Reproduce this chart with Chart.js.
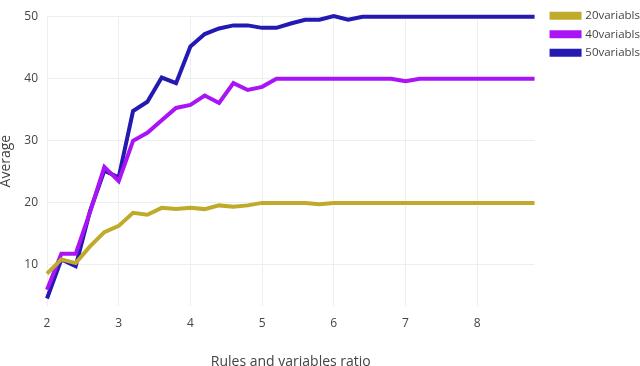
<!DOCTYPE html>
<html>
<head>
<meta charset="utf-8">
<script src="https://cdn.jsdelivr.net/npm/chart.js@4/dist/chart.umd.min.js"></script>
<style>
  html, body { margin: 0; padding: 0; background: #fff; }
  #wrap { width: 640px; height: 366px; position: relative; }
</style>
</head>
<body>
<div id="wrap"><canvas id="chart"></canvas></div>
<script>
// rules / variables ratio (x axis)
const ratios = [2.0, 2.2, 2.4, 2.6, 2.8, 3.0, 3.2, 3.4, 3.6, 3.8, 4.0, 4.2, 4.4, 4.6, 4.8,
                5.0, 5.2, 5.4, 5.6, 5.8, 6.0, 6.2, 6.4, 6.6, 6.8, 7.0, 7.2, 7.4, 7.6, 7.8,
                8.0, 8.2, 8.4, 8.6, 8.8];

const seriesNames = ['20variabls', '40variabls', '50variabls'];
const seriesColors = ['#bfaa2b', '#aa14f5', '#2419b3'];

const avg20 = [8.6, 10.9, 10.3, 13.0, 15.3, 16.3, 18.4, 18.1, 19.2, 19.0, 19.2, 19.0, 19.6, 19.4, 19.6,
               20.0, 20.0, 20.0, 20.0, 19.8, 20.0, 20.0, 20.0, 20.0, 20.0, 20.0, 20.0, 20.0, 20.0, 20.0,
               20.0, 20.0, 20.0, 20.0, 20.0];
const avg40 = [6.0, 11.8, 11.8, 18.5, 25.8, 23.5, 30.0, 31.3, 33.3, 35.3, 35.8, 37.3, 36.1, 39.3, 38.2,
               38.7, 40.0, 40.0, 40.0, 40.0, 40.0, 40.0, 40.0, 40.0, 40.0, 39.6, 40.0, 40.0, 40.0, 40.0,
               40.0, 40.0, 40.0, 40.0, 40.0];
const avg50 = [4.6, 10.9, 9.8, 18.7, 25.2, 24.1, 34.8, 36.3, 40.2, 39.3, 45.2, 47.2, 48.1, 48.6, 48.6,
               48.2, 48.2, 48.9, 49.5, 49.5, 50.1, 49.5, 50.0, 50.0, 50.0, 50.0, 50.0, 50.0, 50.0, 50.0,
               50.0, 50.0, 50.0, 50.0, 50.0];

const xTitle = 'Rules and variables ratio';
const yTitle = 'Average';

const toPoints = vals => vals.map((v, i) => ({ x: ratios[i], y: v }));

const datasets = [avg20, avg40, avg50].map((vals, i) => ({
    label: seriesNames[i],
    data: toPoints(vals),
    borderColor: seriesColors[i],
    backgroundColor: seriesColors[i],
    borderWidth: 4,
    pointRadius: 0,
    tension: 0,
    fill: false,
    clip: 4
}));

// nudge the legend up and right, like the plotly original
const legendShift = {
    id: 'legendShift',
    afterLayout(chart) {
        const l = chart.legend;
        l.left += 10; l.right += 10;
        l.top -= 9; l.bottom -= 9;
    }
};

Chart.defaults.font.family = '"Open Sans", sans-serif';
Chart.defaults.color = '#444';

new Chart(document.getElementById('chart'), {
    type: 'line',
    data: { datasets },
    plugins: [legendShift],
    options: {
        responsive: true,
        maintainAspectRatio: false,
        animation: false,
        layout: { padding: { top: 12, right: 0, left: 0, bottom: 0 } },
        plugins: {
            legend: {
                position: 'right',
                align: 'start',
                labels: {
                    boxWidth: 28,
                    boxHeight: 4,
                    padding: 7,
                    font: { size: 11.5 },
                    color: '#444'
                }
            },
            tooltip: { enabled: false }
        },
        scales: {
            x: {
                type: 'linear',
                min: 2,
                max: 8.8,
                border: { display: false },
                grid: { color: '#eeeeee', drawTicks: false },
                ticks: { stepSize: 1, includeBounds: false, padding: 10, font: { size: 12 } },
                title: { display: true, text: xTitle, font: { size: 14 }, padding: { top: 18, bottom: -4 } },
                afterFit: s => { s.height = 60; }
            },
            y: {
                min: 3.39,
                max: 50.08,
                border: { display: false },
                grid: { color: '#eeeeee', drawTicks: false },
                ticks: { stepSize: 10, includeBounds: false, padding: 9, font: { size: 12 } },
                title: { display: true, text: yTitle, font: { size: 14 }, padding: { top: -2.5, bottom: 0 } },
                afterFit: s => { s.width = 47; }
            }
        }
    }
});
</script>
</body>
</html>
